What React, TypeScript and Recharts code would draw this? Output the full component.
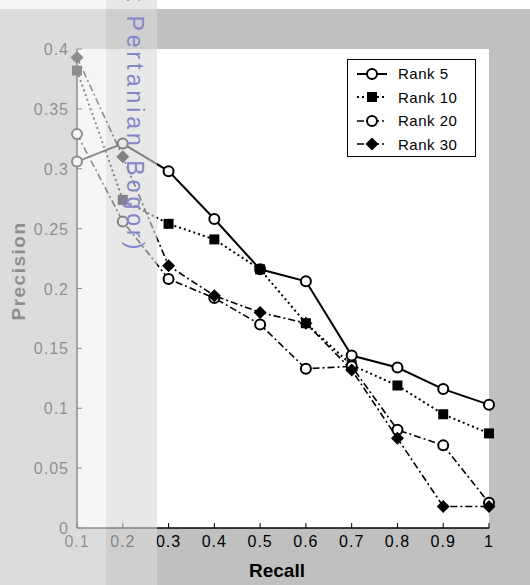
import { LineChart, Line, XAxis, YAxis, CartesianGrid, Legend } from "recharts";

const recall = [0.1, 0.2, 0.3, 0.4, 0.5, 0.6, 0.7, 0.8, 0.9, 1];
const rank5 = [0.306, 0.321, 0.298, 0.258, 0.216, 0.206, 0.144, 0.134, 0.116, 0.103];
const rank10 = [0.382, 0.274, 0.254, 0.241, 0.216, 0.171, 0.136, 0.119, 0.095, 0.079];
const rank20 = [0.329, 0.256, 0.208, 0.192, 0.17, 0.133, 0.135, 0.082, 0.069, 0.021];
const rank30 = [0.393, 0.31, 0.219, 0.194, 0.18, 0.171, 0.132, 0.075, 0.018, 0.018];

const xTicks = [0.1, 0.2, 0.3, 0.4, 0.5, 0.6, 0.7, 0.8, 0.9, 1];
const yTicks = [0, 0.05, 0.1, 0.15, 0.2, 0.25, 0.3, 0.35, 0.4];

const data = recall.map((r, i) => ({
  recall: r,
  rank5: rank5[i],
  rank10: rank10[i],
  rank20: rank20[i],
  rank30: rank30[i],
}));

type MarkerKind = "circle" | "square" | "diamond";

const series: { key: string; name: string; dash?: string; width: number; marker: MarkerKind }[] = [
  { key: "rank5", name: "Rank 5", width: 2, marker: "circle" },
  { key: "rank10", name: "Rank 10", dash: "2 3", width: 2, marker: "square" },
  { key: "rank20", name: "Rank 20", dash: "7 3 2 3", width: 1.6, marker: "circle" },
  { key: "rank30", name: "Rank 30", dash: "7 3 2 3", width: 1.6, marker: "diamond" },
];

const FONT = "Arial, 'Liberation Sans', sans-serif";

function Marker({ kind, cx, cy }: { kind: MarkerKind; cx: number; cy: number }) {
  if (kind === "square") {
    return <rect x={cx - 5} y={cy - 5} width={10} height={10} fill="#000" />;
  }
  if (kind === "diamond") {
    return (
      <polygon
        points={`${cx},${cy - 6.5} ${cx + 6.5},${cy} ${cx},${cy + 6.5} ${cx - 6.5},${cy}`}
        fill="#000"
      />
    );
  }
  return <circle cx={cx} cy={cy} r={5} fill="#fff" stroke="#000" strokeWidth={2} />;
}

const BottomTick = ({ x, y, payload }: any) => (
  <g>
    <line x1={x} y1={y} x2={x} y2={y - 5} stroke="#000" />
    <text x={x} y={y + 19} textAnchor="middle" fontSize={16} letterSpacing={1} fontFamily={FONT} fill="#000">
      {String(payload.value)}
    </text>
  </g>
);

const TopTick = ({ x, y }: any) => <line x1={x} y1={y} x2={x} y2={y + 5} stroke="#000" />;

const LeftTick = ({ x, y, payload }: any) => (
  <g>
    <line x1={x} y1={y} x2={x + 5} y2={y} stroke="#000" />
    <text x={x - 8} y={y + 6} textAnchor="end" fontSize={16} letterSpacing={1} fontFamily={FONT} fill="#000">
      {String(payload.value)}
    </text>
  </g>
);

const RightTick = ({ x, y }: any) => <line x1={x} y1={y} x2={x - 5} y2={y} stroke="#000" />;

const XTitle = () => (
  <text x={277} y={577} textAnchor="middle" fontSize={19} fontWeight="bold" fontFamily={FONT} fill="#000">
    Recall
  </text>
);

const YTitle = () => (
  <text
    x={25}
    y={271}
    textAnchor="middle"
    fontSize={19}
    fontWeight="bold"
    letterSpacing={1.5}
    fontFamily={FONT}
    fill="#000"
    transform="rotate(-90 25 271)"
  >
    Precision
  </text>
);

const LegendBox = () => (
  <div
    style={{
      border: "1px solid #000",
      background: "#fff",
      width: 129,
      height: 98,
      boxSizing: "border-box",
      paddingTop: 2,
      fontFamily: FONT,
    }}
  >
    {series.map((s) => (
      <div key={s.key} style={{ display: "flex", alignItems: "center", height: 23.5 }}>
        <svg width={50} height={20} style={{ flex: "none" }}>
          <line x1={9} y1={10} x2={39} y2={10} stroke="#000" strokeWidth={s.width} strokeDasharray={s.dash} />
          <Marker kind={s.marker} cx={24} cy={10} />
        </svg>
        <span style={{ fontSize: 15, letterSpacing: 0.5, color: "#000" }}>{s.name}</span>
      </div>
    ))}
  </div>
);

export default function App() {
  return (
    <div
      style={{
        position: "absolute",
        left: 0,
        top: 0,
        width: 530,
        height: 585,
        overflow: "hidden",
        background: "linear-gradient(#fff 0px, #fff 9px, #c0c0c0 9px)",
      }}
    >
      <LineChart width={530} height={585} data={data} margin={{ top: 49, right: 41, bottom: 0, left: 0 }}>
        <CartesianGrid horizontal={false} vertical={false} fill="#fff" />
        <XAxis
          dataKey="recall"
          type="number"
          domain={[0.1, 1]}
          ticks={xTicks}
          height={57}
          tickSize={0}
          tickMargin={0}
          tickLine={false}
          tick={<BottomTick />}
          axisLine={{ stroke: "#000", strokeWidth: 1.5 }}
          label={<XTitle />}
        />
        <XAxis
          xAxisId="top"
          orientation="top"
          dataKey="recall"
          type="number"
          domain={[0.1, 1]}
          ticks={xTicks}
          height={0}
          tickSize={0}
          tickMargin={0}
          tickLine={false}
          tick={<TopTick />}
          axisLine={{ stroke: "#000", strokeWidth: 1.5 }}
        />
        <YAxis
          type="number"
          domain={[0, 0.4]}
          ticks={yTicks}
          width={77}
          tickSize={0}
          tickMargin={0}
          tickLine={false}
          tick={<LeftTick />}
          axisLine={{ stroke: "#000", strokeWidth: 1.5 }}
          label={<YTitle />}
        />
        <YAxis
          yAxisId="right"
          orientation="right"
          type="number"
          domain={[0, 0.4]}
          ticks={yTicks}
          width={0}
          tickSize={0}
          tickMargin={0}
          tickLine={false}
          tick={<RightTick />}
          axisLine={{ stroke: "#000", strokeWidth: 1.5 }}
        />
        <Legend
          layout="vertical"
          align="center"
          verticalAlign="middle"
          wrapperStyle={{ top: 59, left: 347, width: 129, height: 98 }}
          content={<LegendBox />}
        />
        {series.map((s) => (
          <Line
            key={s.key}
            dataKey={s.key}
            name={s.name}
            type="linear"
            stroke="#000"
            strokeWidth={s.width}
            strokeDasharray={s.dash}
            isAnimationActive={false}
            dot={(p: any) => (
              <g key={`${s.key}-${p.index}`}>
                <Marker kind={s.marker} cx={p.cx} cy={p.cy} />
              </g>
            )}
          />
        ))}
      </LineChart>
      <div
        style={{
          position: "absolute",
          left: 0,
          top: 0,
          width: 106,
          height: 585,
          background: "rgba(240,240,240,0.59)",
          pointerEvents: "none",
        }}
      />
      <div
        style={{
          position: "absolute",
          left: 106,
          top: 0,
          width: 51,
          height: 585,
          background: "rgba(217,217,217,0.6)",
          pointerEvents: "none",
        }}
      />
      <svg width={530} height={585} style={{ position: "absolute", left: 0, top: 0, pointerEvents: "none" }}>
        <text
          x={127}
          y={124}
          textAnchor="middle"
          fontSize={23}
          letterSpacing={4}
          fontFamily={FONT}
          fill="#8585c8"
          transform="rotate(90 127 124)"
        >
          t Pertanian Bogor)
        </text>
      </svg>
    </div>
  );
}
